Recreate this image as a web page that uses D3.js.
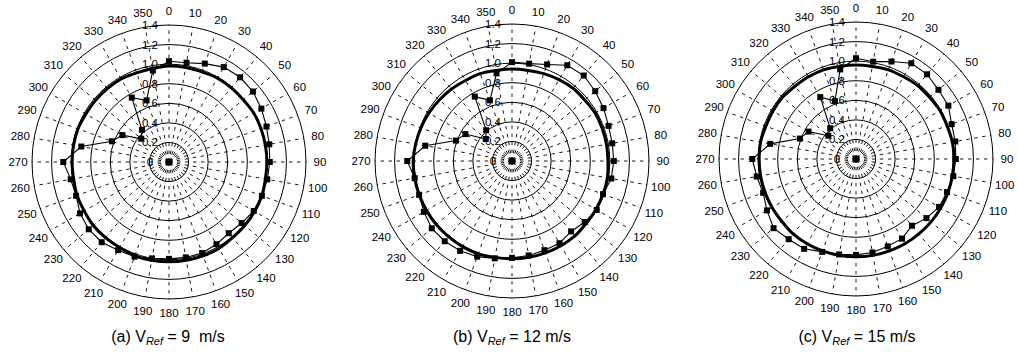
<!DOCTYPE html>
<html>
<head>
<meta charset="utf-8">
<script src="https://cdn.jsdelivr.net/npm/d3@7"></script>
<style>
  html, body { margin: 0; padding: 0; background: #fff; }
  svg { display: block; font-family: "Liberation Sans", Arial, sans-serif; }
</style>
</head>
<body>
<svg id="chart" width="1018" height="357"></svg>
<script>
// Angle categories (degrees, compass: 0 at top, clockwise)
const angles = [0,10,20,30,40,50,60,70,80,90,100,110,120,130,140,150,160,170,
                180,190,200,210,220,230,240,250,260,270,280,290,300,310,320,330,340,350];
// Radial ring values / tick labels
const ringValues = [0.2,0.4,0.6,0.8,1.0,1.2,1.4];
const ringLabels = ["0","0.2","0.4","0.6","0.8","1.0","1.2","1.4"];
const ringLabelValues = [0,0.2,0.4,0.6,0.8,1.0,1.2,1.4];

// Measured series (thin line with square markers)
const measuredA = [1.03,1.03,1.07,1.12,1.13,1.12,1.09,1.06,1.04,1.03,1.02,1.01,1.00,0.97,0.95,0.97,0.99,0.99,
                   0.99,1.00,1.03,1.04,1.07,1.07,1.05,1.01,1.02,1.08,0.91,0.62,0.55,0.37,0.43,0.76,0.67,0.95];
const measuredB = [1.01,1.01,1.05,1.13,1.14,1.11,1.08,1.05,1.04,1.04,1.03,0.99,1.00,0.97,0.94,0.97,0.97,0.98,
                   0.99,1.01,1.04,1.06,1.07,1.07,1.04,1.01,1.01,1.07,0.90,0.61,0.55,0.35,0.41,0.76,0.66,0.91];
const measuredC = [1.03,1.01,1.06,1.13,1.13,1.10,1.09,1.04,1.03,1.02,1.01,0.99,0.98,0.94,0.89,0.94,0.95,0.97,
                   0.98,0.99,1.01,1.06,1.07,1.10,1.05,1.01,1.03,1.06,0.89,0.61,0.56,0.37,0.41,0.73,0.63,0.93];

// Reference series (thick smooth line)
const referenceA = [0.98,0.98,0.98,0.99,0.99,0.99,1.00,1.00,1.00,1.00,1.00,1.01,1.01,1.01,1.01,1.02,1.02,1.02,
                    1.02,1.02,1.02,1.01,1.01,1.01,1.00,1.00,0.99,0.99,0.99,0.99,0.98,0.98,0.98,0.98,0.97,0.97];
const referenceB = [0.94,0.94,0.95,0.96,0.97,0.97,0.98,0.98,0.98,0.98,0.99,0.99,0.99,0.99,1.00,1.00,1.00,1.00,
                    1.00,1.00,1.01,1.01,1.01,1.01,1.01,1.01,1.01,1.01,1.00,0.99,0.98,0.97,0.96,0.95,0.95,0.94];
const referenceC = [0.96,0.96,0.97,0.97,0.98,0.98,0.99,0.99,1.00,1.00,1.00,1.00,1.00,1.00,1.00,1.00,1.00,1.00,
                    1.00,1.00,1.00,1.00,1.00,0.99,0.99,0.99,0.99,0.99,0.99,0.98,0.98,0.98,0.97,0.97,0.97,0.96];

// Captions
const captionLetters = ["(a)","(b)","(c)"];
const captionSpeeds = ["9  m/s","12 m/s","15 m/s"];

const panels = [
  {cx:169, cy:162, measured: measuredA, reference: referenceA, letter: captionLetters[0], speed: captionSpeeds[0], capX:168},
  {cx:512, cy:161, measured: measuredB, reference: referenceB, letter: captionLetters[1], speed: captionSpeeds[1], capX:512},
  {cx:856, cy:159, measured: measuredC, reference: referenceC, letter: captionLetters[2], speed: captionSpeeds[2], capX:857}
];

const svg = d3.select("#chart");
const r = d3.scaleLinear().domain([0, 1.4]).range([0, 137]);
const toRad = d => d * Math.PI / 180;

panels.forEach(p => {
  const g = svg.append("g").attr("transform", `translate(${p.cx},${p.cy})`);

  // spokes (dashed)
  g.selectAll("line.spoke").data(angles).join("line")
    .attr("class","spoke")
    .attr("x1", 0).attr("y1", 0)
    .attr("x2", d => r(1.4) * Math.sin(toRad(d)))
    .attr("y2", d => -r(1.4) * Math.cos(toRad(d)))
    .attr("stroke", "#000").attr("stroke-width", 0.9)
    .attr("stroke-dasharray", "3.5,4.5");

  // rings
  g.selectAll("circle.ring").data(ringValues).join("circle")
    .attr("class","ring")
    .attr("r", d => r(d))
    .attr("fill", "none").attr("stroke", "#000").attr("stroke-width", 1);

  // angle labels
  g.selectAll("text.ang").data(angles).join("text")
    .attr("class","ang")
    .attr("x", d => 151 * Math.sin(toRad(d)))
    .attr("y", d => -151 * Math.cos(toRad(d)))
    .attr("text-anchor","middle").attr("dominant-baseline","central")
    .attr("font-size", 11.5).attr("fill","#000")
    .text(d => d);

  // ring labels
  g.selectAll("text.rl").data(ringLabelValues).join("text")
    .attr("class","rl")
    .attr("x", -19)
    .attr("y", d => -r(d))
    .attr("text-anchor","middle").attr("dominant-baseline","central")
    .attr("font-size", 11.5).attr("fill","#000")
    .text((d,i) => ringLabels[i]);

  // reference thick line
  const refLine = d3.lineRadial()
    .angle((d,i) => toRad(angles[i]))
    .radius(d => r(d))
    .curve(d3.curveCardinalClosed);
  g.append("path").datum(p.reference)
    .attr("d", refLine)
    .attr("fill","none").attr("stroke","#000").attr("stroke-width", 3);

  // measured thin line
  const measLine = d3.lineRadial()
    .angle((d,i) => toRad(angles[i]))
    .radius(d => r(d))
    .curve(d3.curveLinearClosed);
  g.append("path").datum(p.measured)
    .attr("d", measLine)
    .attr("fill","none").attr("stroke","#000").attr("stroke-width", 1.1);

  // markers
  g.selectAll("rect.mk").data(p.measured).join("rect")
    .attr("class","mk")
    .attr("x", (d,i) => r(d) * Math.sin(toRad(angles[i])) - 3)
    .attr("y", (d,i) => -r(d) * Math.cos(toRad(angles[i])) - 3)
    .attr("width", 6).attr("height", 6)
    .attr("fill","#000");

  // central hub
  g.append("rect").attr("x", -3.5).attr("y", -3.5).attr("width", 7).attr("height", 7).attr("fill", "#000");

  // caption
  const cap = svg.append("text")
    .attr("x", p.capX).attr("y", 342)
    .attr("text-anchor","middle")
    .attr("font-size", 16).attr("fill","#000");
  cap.append("tspan").text(p.letter + " V");
  cap.append("tspan").attr("font-size", 11).attr("font-style","italic").attr("dy", 3).text("Ref");
  cap.append("tspan").attr("dy", -3).attr("xml:space","preserve").text(" = " + p.speed);
});
</script>
</body>
</html>
